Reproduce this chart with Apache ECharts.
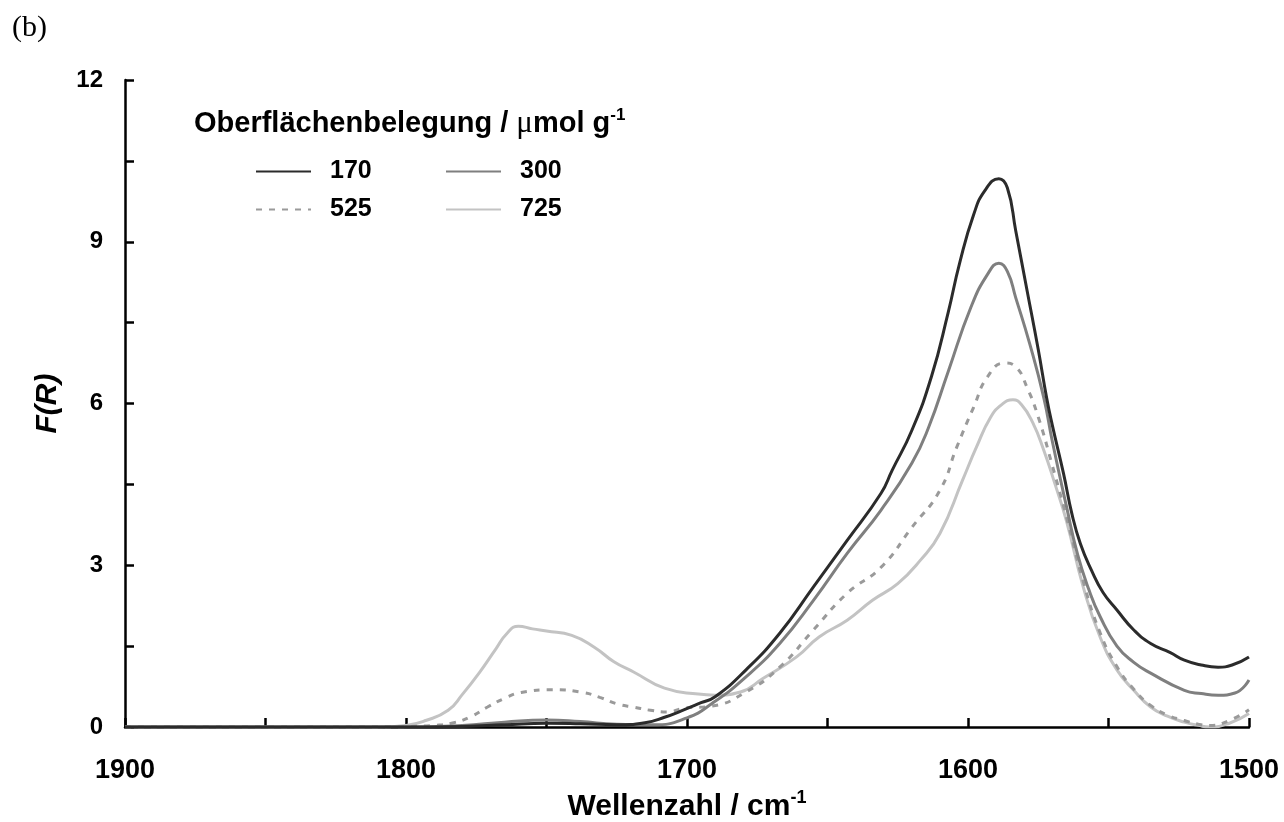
<!DOCTYPE html>
<html>
<head>
<meta charset="utf-8">
<script src="https://cdn.jsdelivr.net/npm/echarts@6/dist/echarts.min.js"></script>
<style>
html,body{margin:0;padding:0;background:#fff;}
#chart{width:1284px;height:822px;}
</style>
</head>
<body>
<div id="chart"></div>
<script>
// ---- data ----
const seriesNames = ['170', '300', '525', '725'];
const xTickLabels = ['1900', '1800', '1700', '1600', '1500'];
const yTickLabels = ['0', '3', '6', '9', '12'];

const wn170 = [1900, 1850, 1800, 1780, 1765, 1750, 1738, 1725, 1715, 1708, 1702, 1695, 1690, 1679, 1667, 1655, 1643, 1631, 1627, 1620, 1613, 1607, 1603, 1598, 1594, 1589, 1586, 1583, 1579, 1575, 1572, 1570, 1566, 1563, 1560, 1556, 1552, 1547, 1541, 1535, 1528, 1523, 1517, 1511, 1506, 1500];
const f170  = [0, 0, 0, 0.01, 0.04, 0.07, 0.06, 0.04, 0.08, 0.18, 0.3, 0.45, 0.56, 1.06, 1.74, 2.6, 3.46, 4.33, 4.76, 5.5, 6.5, 7.7, 8.6, 9.5, 9.95, 10.17, 10.0, 9.2, 8.1, 7.0, 6.1, 5.6, 4.7, 3.95, 3.4, 2.9, 2.5, 2.17, 1.8, 1.55, 1.38, 1.24, 1.15, 1.11, 1.15, 1.3];

const wn300 = [1900, 1850, 1800, 1780, 1765, 1750, 1738, 1725, 1712, 1700, 1691, 1679, 1667, 1655, 1643, 1631, 1620, 1614, 1607, 1599, 1593, 1589, 1586, 1583, 1578, 1573, 1570, 1565, 1561, 1557, 1553, 1547, 1541, 1535, 1523, 1517, 1511, 1505, 1500];
const f300  = [0, 0, 0, 0.03, 0.09, 0.13, 0.1, 0.05, 0.04, 0.17, 0.44, 0.93, 1.55, 2.35, 3.22, 4.02, 4.89, 5.56, 6.6, 7.78, 8.4, 8.6, 8.45, 7.96, 7.1, 6.1, 5.3, 4.1, 3.2, 2.55, 2.05, 1.5, 1.2, 1.0, 0.68, 0.62, 0.59, 0.63, 0.87];

const wn525 = [1900, 1850, 1805, 1799, 1790, 1783, 1777, 1771, 1765, 1759, 1748, 1737, 1731, 1725, 1719, 1713, 1707, 1701, 1691, 1679, 1667, 1655, 1643, 1631, 1620, 1610, 1604, 1598, 1593, 1587, 1583, 1579, 1575, 1570, 1565, 1559, 1553, 1547, 1541, 1535, 1529, 1523, 1518, 1514, 1507, 1500];
const f525  = [0, 0, 0, 0.01, 0.03, 0.08, 0.19, 0.37, 0.53, 0.64, 0.69, 0.64, 0.55, 0.43, 0.37, 0.31, 0.28, 0.35, 0.39, 0.65, 1.11, 1.8, 2.48, 2.96, 3.7, 4.39, 5.19, 5.93, 6.5, 6.75, 6.68, 6.3, 5.75, 4.85, 3.9, 2.7, 1.75, 1.12, 0.7, 0.4, 0.22, 0.12, 0.05, 0.03, 0.12, 0.32];

const wn725 = [1900, 1850, 1810, 1800, 1793, 1785, 1780, 1774, 1768, 1764, 1760, 1755, 1750, 1741, 1733, 1726, 1719, 1708, 1696, 1690, 1681, 1673, 1661, 1653, 1643, 1634, 1625, 1617, 1610, 1602, 1597, 1592, 1588, 1584, 1581, 1577, 1573, 1569, 1565, 1559, 1553, 1547, 1541, 1535, 1529, 1523, 1518, 1514, 1507, 1500];
const f725  = [0, 0, 0, 0.03, 0.12, 0.31, 0.6, 1.0, 1.45, 1.74, 1.87, 1.82, 1.78, 1.7, 1.48, 1.21, 1.02, 0.72, 0.61, 0.59, 0.65, 0.9, 1.3, 1.67, 1.98, 2.35, 2.66, 3.09, 3.59, 4.57, 5.19, 5.74, 5.98, 6.07, 5.98, 5.65, 5.13, 4.5, 3.83, 2.6, 1.67, 1.06, 0.68, 0.37, 0.2, 0.09, 0.03, 0.0, 0.07, 0.25];

// ---- build chart ----
function pairs(xs, ys) { return xs.map((x, i) => [x, ys[i]]); }
const FONT = "'Liberation Sans', Arial, sans-serif";
const SERIF = "'Liberation Serif', 'Times New Roman', serif";
const colors = ['#2b2b2b', '#7f7f7f', '#9a9a9a', '#c3c3c3'];
const dataSets = [pairs(wn170, f170), pairs(wn300, f300), pairs(wn525, f525), pairs(wn725, f725)];

const chart = echarts.init(document.getElementById('chart'), null, {renderer: 'canvas'});

const legendBase = {
  itemWidth: 55, itemHeight: 14, itemGap: 0, padding: 0,
  itemStyle: {opacity: 0},
  textStyle: {fontFamily: FONT, fontSize: 25, fontWeight: 'bold', color: '#000', padding: [0, 0, 0, 14]},
  selectedMode: false
};

chart.setOption({
  backgroundColor: '#fff',
  animation: false,
  title: [
    {text: '(b)', left: 12, top: 13, padding: 0,
     textStyle: {fontFamily: SERIF, fontSize: 30, fontWeight: 'normal', color: '#000'}},
    {text: '{a|Oberflächenbelegung / }{m|μ}{a|mol g}{s|-1}', left: 194, top: 107, padding: 0,
     textStyle: {rich: {
       a: {fontFamily: FONT, fontSize: 29, fontWeight: 'bold', color: '#000', lineHeight: 34},
       m: {fontFamily: SERIF, fontSize: 31, fontWeight: 'normal', color: '#000', lineHeight: 34},
       s: {fontFamily: FONT, fontSize: 17, fontWeight: 'bold', color: '#000', verticalAlign: 'top', lineHeight: 34, padding: [0, 0, 12, 0]}
     }}}
  ],
  legend: [
    Object.assign({data: ['170'], left: 255, top: 159}, legendBase),
    Object.assign({data: ['300'], left: 445, top: 159}, legendBase),
    Object.assign({data: ['525'], left: 255, top: 197}, legendBase),
    Object.assign({data: ['725'], left: 445, top: 197}, legendBase)
  ],
  grid: {left: 125, right: 35, top: 80, bottom: 95, containLabel: false, outerBoundsMode: 'none'},
  xAxis: {
    type: 'value', inverse: true, min: 1500, max: 1900, interval: 50,
    name: '{a|Wellenzahl / cm}{s|-1}', nameLocation: 'middle', nameGap: 48,
    nameTextStyle: {rich: {
      a: {fontFamily: FONT, fontSize: 30, fontWeight: 'bold', color: '#000', lineHeight: 36},
      s: {fontFamily: FONT, fontSize: 18, fontWeight: 'bold', color: '#000', verticalAlign: 'top', lineHeight: 36, padding: [0, 0, 13, 0]}
    }},
    axisLine: {show: true, onZero: false, lineStyle: {color: '#000', width: 2.5}},
    axisTick: {show: true, inside: true, length: 9, lineStyle: {color: '#000', width: 2.5}},
    axisLabel: {
      margin: 30, fontFamily: FONT, fontSize: 27, fontWeight: 'bold', color: '#000',
      formatter: v => (xTickLabels.indexOf(String(v)) >= 0 ? String(v) : '')
    },
    splitLine: {show: false}
  },
  yAxis: {
    type: 'value', min: 0, max: 12, interval: 1.5,
    name: 'F(R)', nameLocation: 'middle', nameGap: 62,
    nameTextStyle: {fontFamily: FONT, fontSize: 30, fontWeight: 'bold', fontStyle: 'italic', color: '#000'},
    axisLine: {show: true, onZero: false, lineStyle: {color: '#000', width: 2.5}},
    axisTick: {show: true, inside: true, length: 9, lineStyle: {color: '#000', width: 2.5}},
    axisLabel: {
      margin: 22, fontFamily: FONT, fontSize: 24, fontWeight: 'bold', color: '#000',
      formatter: v => (yTickLabels.indexOf(String(v)) >= 0 ? String(v) : '')
    },
    splitLine: {show: false}
  },
  series: seriesNames.map((name, i) => ({
    name: name,
    type: 'line',
    data: dataSets[i],
    showSymbol: false,
    symbol: 'none',
    smooth: 0.5,
    z: 10 - i,
    lineStyle: {color: colors[i], width: 3, type: i === 2 ? [6, 7] : 'solid'},
    itemStyle: {color: colors[i]}
  }))
});
</script>
</body>
</html>
